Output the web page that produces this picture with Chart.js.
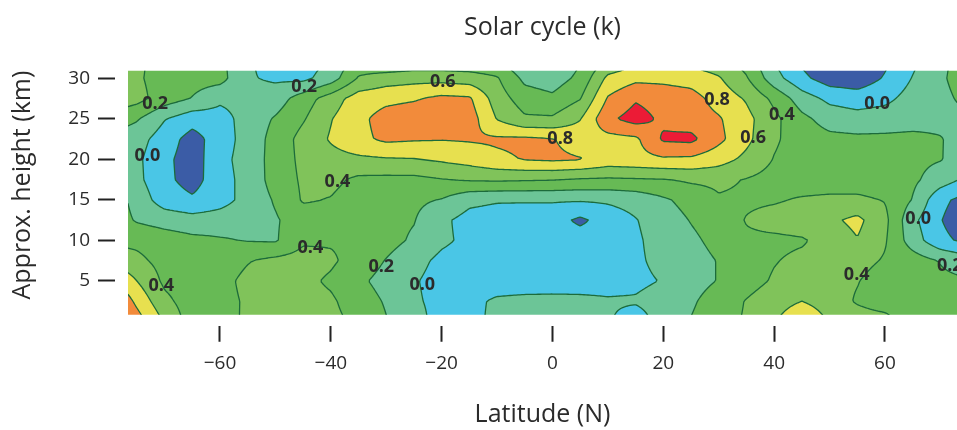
<!DOCTYPE html>
<html>
<head>
<meta charset="utf-8">
<script src="https://cdn.jsdelivr.net/npm/chart.js@4.4.1/dist/chart.umd.min.js"></script>
<style>
    html, body { margin: 0; padding: 0; background: #fff; }
</style>
</head>
<body>
<canvas id="chart" width="957" height="430"></canvas>
<script>
const FONT = '"Open Sans", "DejaVu Sans", sans-serif';
const INK  = '#2b2b2b';

// grid: latitude columns (deg N), height rows (km)
const latitudes = [ -80, -75, -70, -65, -60, -55, -50, -45, -40, -35, -30, -25, -20, -15, -10, -5,
                      0,   5,  10,  15,  20,  25,  30,  35,  40,  45,  50,  55,  60,  65,  70, 75 ];
const heights   = [ 0, 2.5, 5, 7.5, 10, 12.5, 15, 17.5, 20, 22.5, 25, 27.5, 30, 32.5 ];

const z0    = [ 1.20, 0.90, 0.58, 0.30, 0.33, 0.43, 0.47, 0.47, 0.45, 0.36, 0.21, 0.08, -0.08, -0.06, 0.05, 0.08,
                0.10, 0.08, 0.02, -0.10, 0.08, 0.21, 0.33, 0.42, 0.58, 0.80, 0.58, 0.50, 0.48, 0.28, 0.26, 0.25 ];
const z2_5  = [ 1.10, 0.75, 0.45, 0.30, 0.35, 0.42, 0.47, 0.47, 0.43, 0.30, 0.18, 0.03, -0.06, -0.05, 0.03, 0.05,
                0.05, 0.04, 0.02, 0.02, 0.08, 0.17, 0.30, 0.41, 0.50, 0.60, 0.50, 0.38, 0.30, 0.27, 0.25, 0.24 ];
const z5    = [ 0.85, 0.60, 0.36, 0.30, 0.35, 0.44, 0.46, 0.45, 0.37, 0.24, 0.13, 0.02, -0.08, -0.10, -0.10, -0.10,
                -0.09, -0.08, -0.07, -0.04, 0.01, 0.12, 0.21, 0.33, 0.42, 0.47, 0.45, 0.41, 0.30, 0.27, 0.24, 0.22 ];
const z7_5  = [ 0.55, 0.45, 0.33, 0.30, 0.32, 0.39, 0.45, 0.48, 0.43, 0.32, 0.19, 0.07, -0.05, -0.10, -0.12, -0.12,
                -0.12, -0.12, -0.10, -0.03, 0.05, 0.12, 0.21, 0.32, 0.39, 0.44, 0.46, 0.47, 0.38, 0.30, 0.19, 0.10 ];
const z10   = [ 0.35, 0.35, 0.30, 0.25, 0.22, 0.19, 0.18, 0.37, 0.38, 0.37, 0.27, 0.17, 0.04, -0.05, -0.08, -0.10,
                -0.10, -0.10, -0.10, -0.03, 0.08, 0.16, 0.26, 0.37, 0.36, 0.38, 0.47, 0.59, 0.42, 0.10, -0.15, -0.25 ];
const z12_5 = [ 0.33, 0.18, 0.12, 0.08, 0.10, 0.13, 0.18, 0.30, 0.32, 0.30, 0.26, 0.21, 0.04, -0.07, -0.10, -0.12,
                -0.12, -0.24, -0.11, -0.01, 0.10, 0.21, 0.30, 0.41, 0.47, 0.50, 0.56, 0.65, 0.45, 0.05, -0.19, -0.35 ];
const z15   = [ 0.35, 0.12, -0.10, -0.17, -0.08, 0.07, 0.22, 0.42, 0.39, 0.30, 0.27, 0.24, 0.19, 0.05, 0.02, 0.02,
                0.02, 0.02, 0.03, 0.07, 0.17, 0.27, 0.38, 0.37, 0.38, 0.42, 0.44, 0.44, 0.39, 0.19, -0.15, -0.28 ];
const z17_5 = [ 0.22, 0.05, -0.15, -0.28, -0.08, 0.07, 0.28, 0.43, 0.45, 0.36, 0.35, 0.35, 0.39, 0.42, 0.43, 0.42,
                0.41, 0.38, 0.37, 0.38, 0.39, 0.43, 0.44, 0.39, 0.33, 0.30, 0.30, 0.30, 0.28, 0.24, 0.10, -0.05 ];
const z20   = [ 0.22, 0.04, -0.15, -0.30, -0.06, 0.08, 0.28, 0.45, 0.53, 0.56, 0.58, 0.59, 0.63, 0.68, 0.76, 0.81,
                0.83, 0.81, 0.72, 0.74, 0.77, 0.76, 0.68, 0.55, 0.39, 0.30, 0.30, 0.30, 0.28, 0.25, 0.21, 0.10 ];
const z22_5 = [ 0.15, 0.08, -0.10, -0.28, -0.10, 0.08, 0.27, 0.47, 0.62, 0.75, 0.84, 0.82, 0.81, 0.82, 0.83, 0.84,
                0.81, 0.72, 0.73, 0.76, 1.03, 1.05, 0.85, 0.65, 0.43, 0.30, 0.25, 0.24, 0.24, 0.25, 0.21, 0.12 ];
const z25   = [ 0.32, 0.22, 0.01, -0.12, -0.08, 0.08, 0.22, 0.38, 0.59, 0.75, 0.88, 0.92, 0.92, 0.90, 0.59, 0.43,
                0.43, 0.59, 0.96, 1.08, 0.96, 0.90, 0.82, 0.66, 0.45, 0.25, 0.12, 0.08, 0.10, 0.12, 0.15, 0.16 ];
const z27_5 = [ 0.55, 0.47, 0.30, 0.19, 0.04, 0.06, 0.10, 0.30, 0.50, 0.70, 0.75, 0.78, 0.85, 0.83, 0.50, 0.30,
                0.24, 0.39, 0.82, 0.98, 0.92, 0.88, 0.72, 0.58, 0.35, 0.10, -0.05, -0.10, -0.05, 0.08, 0.15, 0.25 ];
const z30   = [ 0.50, 0.43, 0.31, 0.28, 0.27, 0.02, -0.03, -0.05, 0.10, 0.42, 0.50, 0.53, 0.53, 0.50, 0.42, 0.15,
                0.10, 0.25, 0.65, 0.75, 0.75, 0.72, 0.62, 0.42, 0.08, -0.15, -0.30, -0.32, -0.18, 0.01, 0.17, 0.30 ];
const z32_5 = [ 0.50, 0.45, 0.30, 0.28, 0.24, 0.05, -0.15, -0.12, 0.02, 0.25, 0.15, 0.19, 0.19, 0.19, 0.19, -0.02,
                -0.02, 0.18, 0.38, 0.50, 0.50, 0.50, 0.45, 0.30, -0.02, -0.25, -0.40, -0.40, -0.25, -0.05, 0.15, 0.30 ];

const zRows = [ z0, z2_5, z5, z7_5, z10, z12_5, z15, z17_5, z20, z22_5, z25, z27_5, z30, z32_5 ];

const levels      = [ -0.2, 0.0, 0.2, 0.4, 0.6, 0.8, 1.0 ];
const bandColours = [ '#3b5ca6', '#4ac6e6', '#6cc597', '#67ba55', '#80c35a', '#e7e04f', '#f28b3b', '#ec1b36' ];

const xTickValues = [ -60, -40, -20, 0, 20, 40, 60 ];
const yTickValues = [ 5, 10, 15, 20, 25, 30 ];

// contour labels
const labelLat    = [ -71.7, -73.1, -44.8, -19.8, -38.8, -43.7, -30.9, -23.5, -70.6, 1.4, 29.7, 41.4, 36.2, 58.6, 66.0, 71.7, 54.9 ];
const labelHeight = [ 26.8, 20.4, 29.0, 29.6, 17.2, 9.1, 6.7, 4.5, 4.4, 22.5, 27.3, 25.5, 22.7, 26.8, 12.6, 6.9, 5.7 ];
const labelText   = [ '0.2', '0.0', '0.2', '0.6', '0.4', '0.4', '0.2', '0.0', '0.4', '0.8', '0.8', '0.4', '0.6', '0.0', '0.0', '0.2', '0.4' ];

function locate( arr, v ) {
    let i = 0;
    while ( i < arr.length - 2 && v > arr[ i + 1 ] ) i++;
    const t = ( v - arr[ i ] ) / ( arr[ i + 1 ] - arr[ i ] );
    return [ i, Math.min( Math.max( t, 0 ), 1 ) ];
}

function valueAt( lat, h ) {
    const [ i, tx ] = locate( latitudes, lat );
    const [ j, ty ] = locate( heights, h );
    const a = zRows[ j ][ i ], b = zRows[ j ][ i + 1 ];
    const c = zRows[ j + 1 ][ i ], d = zRows[ j + 1 ][ i + 1 ];
    return ( a * ( 1 - tx ) + b * tx ) * ( 1 - ty ) + ( c * ( 1 - tx ) + d * tx ) * ty;
}

function hexToRgb( hex ) {
    const n = parseInt( hex.slice( 1 ), 16 );
    return [ ( n >> 16 ) & 255, ( n >> 8 ) & 255, n & 255 ];
}

const contourPlugin = {
    id: 'contourFill',
    beforeDatasetsDraw( chart ) {
        const { ctx, chartArea: area, scales: { x, y } } = chart;
        const left = Math.floor( area.left ), top = Math.floor( area.top );
        const w = Math.ceil( area.right ) - left, h = Math.ceil( area.bottom ) - top;
        const W = w + 1;

        const field = new Float32Array( W * ( h + 1 ) );
        for ( let j = 0; j <= h; j++ ) {
            const hv = y.getValueForPixel( top + j );
            for ( let i = 0; i <= w; i++ ) {
                field[ j * W + i ] = valueAt( x.getValueForPixel( left + i ), hv );
            }
        }
        const F = ( i, j ) => field[ j * W + i ];

        const off = document.createElement( 'canvas' );
        off.width = w; off.height = h;
        const octx = off.getContext( '2d' );
        const img = octx.createImageData( w, h );
        const rgb = bandColours.map( hexToRgb );
        for ( let j = 0; j < h; j++ ) {
            for ( let i = 0; i < w; i++ ) {
                const v = ( F( i, j ) + F( i + 1, j ) + F( i, j + 1 ) + F( i + 1, j + 1 ) ) / 4;
                let k = 0;
                while ( k < levels.length && v >= levels[ k ] ) k++;
                const p = ( j * w + i ) * 4;
                img.data[ p ] = rgb[ k ][ 0 ];
                img.data[ p + 1 ] = rgb[ k ][ 1 ];
                img.data[ p + 2 ] = rgb[ k ][ 2 ];
                img.data[ p + 3 ] = 255;
            }
        }
        octx.putImageData( img, 0, 0 );

        ctx.save();
        ctx.beginPath();
        ctx.rect( area.left, area.top, area.right - area.left, area.bottom - area.top );
        ctx.clip();
        ctx.drawImage( off, left, top );

        // marching squares over the pixel field
        const step = 2;
        const xs = [], ys = [];
        for ( let i = 0; i < w; i += step ) xs.push( i );
        xs.push( w );
        for ( let j = 0; j < h; j += step ) ys.push( j );
        ys.push( h );

        ctx.beginPath();
        levels.forEach( ( L ) => {
            for ( let jj = 0; jj < ys.length - 1; jj++ ) {
                const j0 = ys[ jj ], j1 = ys[ jj + 1 ];
                for ( let ii = 0; ii < xs.length - 1; ii++ ) {
                    const i0 = xs[ ii ], i1 = xs[ ii + 1 ];
                    const a = F( i0, j0 ), b = F( i1, j0 ), c = F( i1, j1 ), d = F( i0, j1 );
                    const sa = a >= L, sb = b >= L, sc = c >= L, sd = d >= L;
                    if ( sa === sb && sb === sc && sc === sd ) continue;
                    const pts = [];
                    if ( sa !== sb ) pts.push( [ i0 + ( L - a ) / ( b - a ) * ( i1 - i0 ), j0 ] );
                    if ( sb !== sc ) pts.push( [ i1, j0 + ( L - b ) / ( c - b ) * ( j1 - j0 ) ] );
                    if ( sd !== sc ) pts.push( [ i0 + ( L - d ) / ( c - d ) * ( i1 - i0 ), j1 ] );
                    if ( sa !== sd ) pts.push( [ i0, j0 + ( L - a ) / ( d - a ) * ( j1 - j0 ) ] );
                    const seg = ( p, q ) => {
                        ctx.moveTo( left + p[ 0 ], top + p[ 1 ] );
                        ctx.lineTo( left + q[ 0 ], top + q[ 1 ] );
                    };
                    if ( pts.length === 2 ) {
                        seg( pts[ 0 ], pts[ 1 ] );
                    } else if ( pts.length === 4 ) {
                        const centre = ( a + b + c + d ) / 4 >= L;
                        if ( centre === sa ) { seg( pts[ 0 ], pts[ 1 ] ); seg( pts[ 2 ], pts[ 3 ] ); }
                        else { seg( pts[ 3 ], pts[ 0 ] ); seg( pts[ 1 ], pts[ 2 ] ); }
                    }
                }
            }
        } );
        ctx.strokeStyle = '#1c6b3b';
        ctx.lineWidth = 1.3;
        ctx.lineCap = 'round';
        ctx.lineJoin = 'round';
        ctx.stroke();
        ctx.restore();
    },
    afterDatasetsDraw( chart ) {
        const { ctx, chartArea: area } = chart;
        const meta = chart.getDatasetMeta( 0 );
        ctx.save();
        ctx.beginPath();
        ctx.rect( area.left, area.top, area.right - area.left, area.bottom - area.top );
        ctx.clip();
        ctx.font = 'bold 18px ' + FONT;
        ctx.fillStyle = INK;
        ctx.textAlign = 'center';
        ctx.textBaseline = 'middle';
        meta.data.forEach( ( pt, i ) => ctx.fillText( labelText[ i ], pt.x, pt.y ) );
        ctx.restore();
    },
};

const axisFont  = { family: FONT, size: 19 };
const titleFont = { family: FONT, size: 25, weight: 'normal', lineHeight: 1.2 };

new Chart( document.getElementById( 'chart' ), {
    type: 'scatter',
    data: {
        datasets: [ {
            data: labelLat.map( ( lat, i ) => ( { x: lat, y: labelHeight[ i ] } ) ),
            pointRadius: 0,
            pointHoverRadius: 0,
        } ],
    },
    options: {
        responsive: false,
        animation: false,
        events: [],
        layout: { padding: 0 },
        plugins: {
            legend: { display: false },
            tooltip: { enabled: false },
            title: {
                display: true,
                text: 'Solar cycle (k)',
                fullSize: false,
                color: INK,
                font: titleFont,
                padding: { top: 13, bottom: 27.7 },
            },
        },
        scales: {
            x: {
                type: 'linear',
                min: -76.6,
                max: 73.0,
                afterBuildTicks: ( s ) => { s.ticks = xTickValues.map( ( v ) => ( { value: v } ) ); },
                afterFit: ( s ) => { s.height = 115.3; },
                grid: { drawOnChartArea: false, tickLength: 27, tickWidth: 2, tickColor: '#222', tickBorderDash: [ 0, 11, 16, 100 ] },
                border: { display: false },
                ticks: {
                    padding: 10,
                    color: INK,
                    font: axisFont,
                    maxRotation: 0,
                    autoSkip: false,
                    callback: ( v ) => ( v < 0 ? '\u2212' + Math.abs( v ) : String( v ) ),
                },
                title: { display: true, text: 'Latitude (N)', color: INK, font: titleFont, padding: { top: 0, bottom: 0 } },
            },
            y: {
                type: 'linear',
                min: 0.84,
                max: 30.94,
                afterBuildTicks: ( s ) => { s.ticks = yTickValues.map( ( v ) => ( { value: v } ) ); },
                afterFit: ( s ) => { s.width = 128; },
                grid: { drawOnChartArea: false, tickLength: 30, tickWidth: 2, tickColor: '#222', tickBorderDash: [ 17, 100 ] },
                border: { display: false },
                ticks: { padding: 8, color: INK, font: axisFont, autoSkip: false },
                title: { display: true, text: 'Approx. height (km)', align: 'end', color: INK, font: titleFont, padding: { top: 8, bottom: 0 } },
            },
        },
    },
    plugins: [ contourPlugin ],
} );
</script>
</body>
</html>
